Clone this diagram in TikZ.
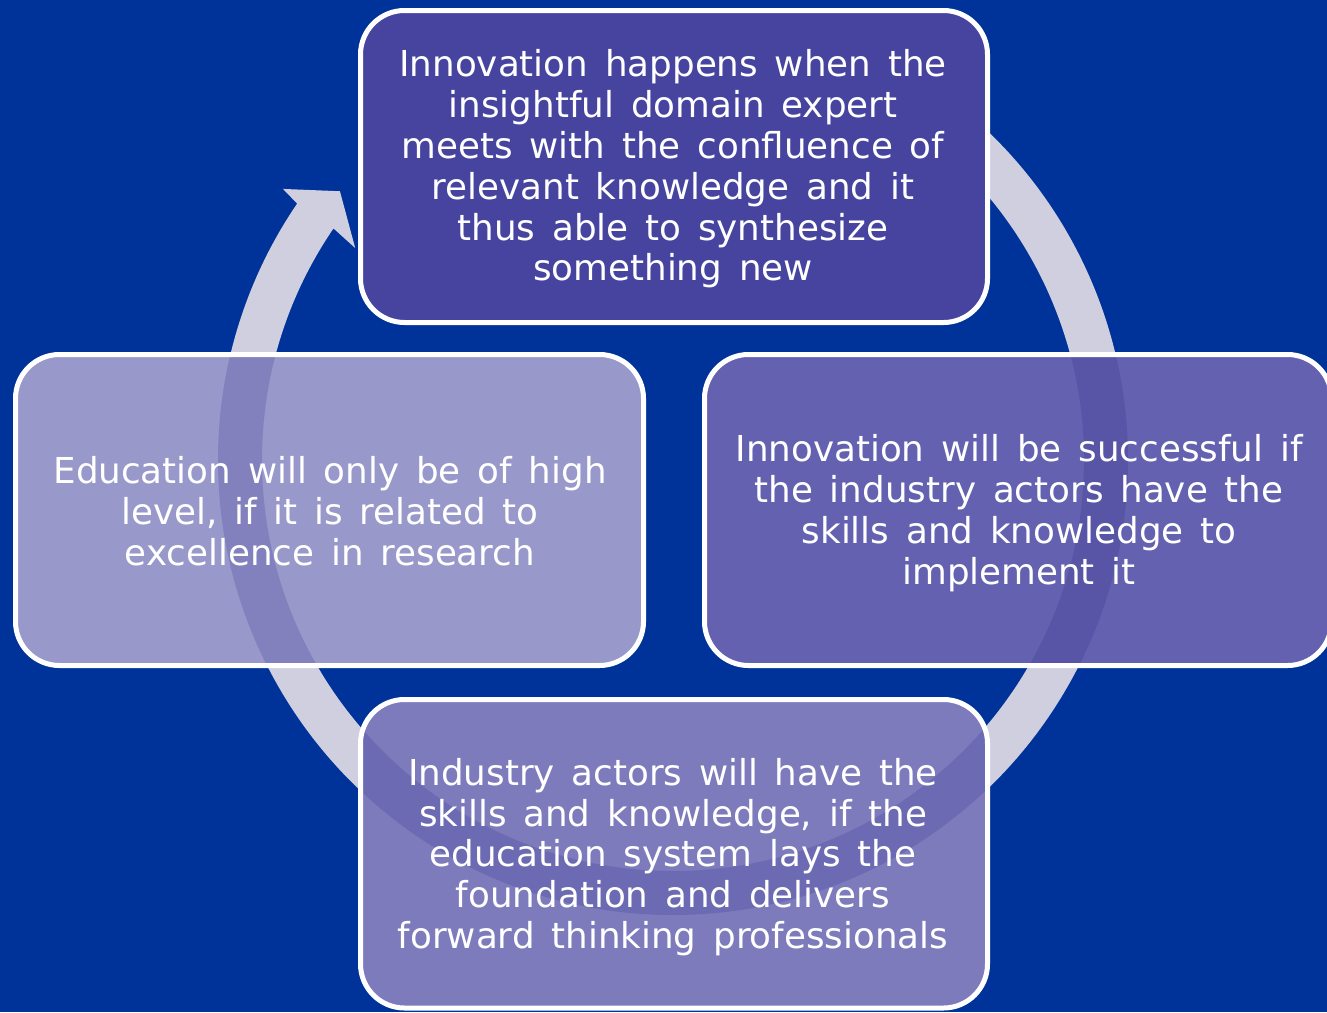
\documentclass[tikz,border=0pt]{standalone}
\usepackage{fontspec}
\setmainfont{DejaVu Sans}[WordSpace=1.48]
\usetikzlibrary{calc}
\definecolor{bgblue}{HTML}{003399}
\definecolor{ringgrey}{HTML}{CFCFE0}
\definecolor{topfill}{HTML}{4744A0}
\definecolor{rightfill}{HTML}{6461B0}
\definecolor{rightring}{HTML}{5855A6}
\definecolor{bottomfill}{HTML}{7E7BBD}
\definecolor{bottomring}{HTML}{6C6AB2}
\definecolor{leftfill}{HTML}{9998CA}
\definecolor{leftring}{HTML}{8281BD}
\begin{document}
\begin{tikzpicture}[x=1pt,y=-1pt,
  cyclebox/.style={draw=white,line width=5,rounded corners=44},
  boxtext/.style={text=white,align=center,inner sep=0,
    font=\fontsize{35.7}{40.8}\selectfont}]
\useasboundingbox (0,0) rectangle (1327,1012);
\fill[bgblue] (0,0) rectangle (1327,1012);

% centre of the circular arrow
\coordinate (ctr) at (673,460);

% ring with its arrow head (clockwise, head at upper left)
\fill[ringgrey] ($(ctr)+(-60:455)$) arc[start angle=-60, end angle=214.3, radius=455]
  -- ($(ctr)+(214.8:475)$) -- ($(ctr)+(218.9:428)$) -- ($(ctr)+(213.7:382)$)
  -- ($(ctr)+(214.3:411)$) arc[start angle=214.3, end angle=-60, radius=411] -- cycle;

% top box
\fill[topfill,rounded corners=44] (360.5,10.5) rectangle (987.5,322.5);
\draw[cyclebox] (360.5,10.5) rectangle (987.5,322.5);

% right box
\fill[rightfill,rounded corners=44] (704.5,354.5) rectangle (1331.5,665.5);
\begin{scope}
  \clip[rounded corners=44] (704.5,354.5) rectangle (1331.5,665.5);
  \fill[rightring,even odd rule] (ctr) circle[radius=455] (ctr) circle[radius=411];
\end{scope}
\draw[cyclebox] (704.5,354.5) rectangle (1331.5,665.5);

% left box
\fill[leftfill,rounded corners=44] (15.5,354.5) rectangle (643.5,665.5);
\begin{scope}
  \clip[rounded corners=44] (15.5,354.5) rectangle (643.5,665.5);
  \fill[leftring,even odd rule] (ctr) circle[radius=455] (ctr) circle[radius=411];
\end{scope}
\draw[cyclebox] (15.5,354.5) rectangle (643.5,665.5);

% bottom box
\fill[bottomfill,rounded corners=44] (360.5,699.5) rectangle (987.5,1008);
\begin{scope}
  \clip[rounded corners=44] (360.5,699.5) rectangle (987.5,1008);
  \fill[bottomring,even odd rule] (ctr) circle[radius=455] (ctr) circle[radius=411];
\end{scope}
\draw[cyclebox] (360.5,699.5) rectangle (987.5,1008);

% texts
\node[boxtext] (ttop) at (673,169) {Innovation happens when the\\insightful domain expert\\meets with the confluence of\\relevant knowledge and it\\thus able to synthesize\\something new};
\node[boxtext] (tright) at (1019,513) {Innovation will be successful if\\the industry actors have the\\skills and knowledge to\\implement it};
\node[boxtext] (tleft) at (330,511) {Education will only be of high\\level, if it is related to\\excellence in research};
\node[boxtext] (tbottom) at (673,857) {Industry actors will have the\\skills and knowledge, if the\\education system lays the\\foundation and delivers\\forward thinking professionals};
\end{tikzpicture}
\end{document}
